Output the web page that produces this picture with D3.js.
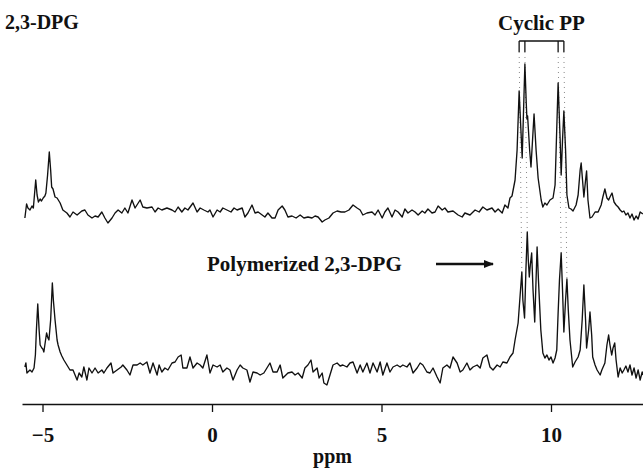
<!DOCTYPE html>
<html>
<head>
<meta charset="utf-8">
<script src="https://cdn.jsdelivr.net/npm/d3@7"></script>
<style>
  body { margin: 0; background: #fff; }
  svg text { font-family: "Liberation Serif", "Times New Roman", serif; font-weight: bold; fill: #111; }
</style>
</head>
<body>
<div id="chart"></div>
<script>
// upper trace (2,3-DPG): chemical shift (ppm) and intensity
const topPpm = [-5.52,-5.47,-5.43,-5.37,-5.31,-5.27,-5.20,-5.16,-5.12,-5.07,-5.03,-4.98,-4.93,-4.90,-4.85,-4.80,-4.76,-4.73,-4.69,-4.63,-4.57,-4.48,-4.40,-4.28,-4.19,-4.10,-3.98,-3.84,-3.75,-3.66,-3.54,-3.45,-3.36,-3.25,-3.16,-3.07,-2.95,-2.86,-2.77,-2.66,-2.57,-2.48,-2.36,-2.27,-2.12,-2.04,-1.92,-1.77,-1.68,-1.59,-1.48,-1.33,-1.18,-1.09,-1.00,-0.89,-0.80,-0.71,-0.56,-0.44,-0.35,-0.24,-0.12,-0.06,0.03,0.15,0.24,0.32,0.44,0.56,0.65,0.74,0.89,0.97,1.06,1.18,1.27,1.36,1.48,1.56,1.65,1.77,1.86,1.95,2.07,2.15,2.24,2.36,2.48,2.60,2.71,2.83,2.95,3.04,3.13,3.25,3.33,3.45,3.57,3.69,3.81,3.92,4.04,4.16,4.28,4.37,4.45,4.57,4.72,4.81,4.90,5.02,5.10,5.19,5.31,5.40,5.49,5.61,5.69,5.78,5.90,5.99,6.08,6.20,6.28,6.37,6.49,6.58,6.67,6.79,6.87,6.96,7.11,7.26,7.38,7.46,7.61,7.76,7.88,7.99,8.11,8.26,8.35,8.44,8.56,8.64,8.73,8.79,8.85,8.94,9.00,9.06,9.15,9.23,9.27,9.29,9.31,9.37,9.41,9.50,9.56,9.62,9.71,9.76,9.82,9.88,9.97,10.06,10.12,10.16,10.21,10.27,10.30,10.34,10.38,10.43,10.47,10.53,10.59,10.65,10.74,10.80,10.86,10.89,10.93,10.97,11.02,11.05,11.09,11.15,11.21,11.30,11.39,11.48,11.53,11.59,11.65,11.70,11.74,11.80,11.86,11.92,11.98,12.04,12.10,12.15,12.21,12.27,12.33,12.39,12.45,12.51,12.57,12.63,12.71];
const topInt = [-5,9,5,3,7,5,33,18,11,14,12,15,17,20,38,61,43,26,24,16,15,10,3,0,-4,1,-2,2,3,-2,-5,-3,-4,1,-5,-10,-5,0,3,0,5,0,13,5,13,6,5,6,1,5,3,5,3,1,6,1,5,3,10,1,5,3,1,3,-4,3,1,5,3,1,5,3,5,-4,0,8,0,1,-2,-4,0,-5,-5,3,7,3,-4,-3,-5,-2,-5,-4,-5,-3,-4,-9,-7,-5,0,2,1,1,3,8,5,3,-2,0,1,-2,3,-5,1,5,-4,3,1,-4,4,0,3,1,-2,2,0,4,0,1,7,3,5,1,2,-2,-4,0,-2,3,1,6,3,5,1,4,0,8,5,15,17,33,63,122,55,149,110,94,97,63,46,99,63,35,13,6,10,8,13,15,28,73,130,73,38,73,102,63,18,5,4,2,8,18,43,50,33,16,33,42,13,-5,-4,1,1,8,16,24,15,13,16,20,11,8,6,3,1,2,-2,0,-5,-1,-7,-3,-6,1,-1];

// lower trace (polymerized 2,3-DPG)
const botPpm = [-5.52,-5.49,-5.46,-5.37,-5.31,-5.25,-5.21,-5.18,-5.14,-5.10,-5.07,-5.02,-4.99,-4.96,-4.91,-4.88,-4.84,-4.81,-4.76,-4.71,-4.68,-4.63,-4.57,-4.54,-4.48,-4.43,-4.37,-4.28,-4.19,-4.10,-3.98,-3.92,-3.84,-3.78,-3.69,-3.63,-3.54,-3.45,-3.36,-3.25,-3.19,-3.10,-2.98,-2.92,-2.80,-2.68,-2.63,-2.51,-2.42,-2.33,-2.21,-2.12,-2.04,-1.92,-1.83,-1.74,-1.62,-1.56,-1.48,-1.39,-1.30,-1.18,-1.09,-1.00,-0.91,-0.86,-0.74,-0.65,-0.56,-0.44,-0.35,-0.27,-0.15,-0.06,0.03,0.15,0.24,0.32,0.44,0.53,0.62,0.74,0.83,0.91,1.03,1.12,1.21,1.33,1.42,1.53,1.62,1.71,1.80,1.92,2.01,2.09,2.24,2.36,2.45,2.54,2.66,2.74,2.83,2.92,2.98,3.10,3.16,3.25,3.30,3.39,3.48,3.57,3.69,3.78,3.86,3.98,4.07,4.16,4.28,4.37,4.45,4.57,4.66,4.75,4.87,4.96,5.04,5.16,5.25,5.34,5.46,5.55,5.63,5.75,5.84,5.93,6.05,6.14,6.22,6.34,6.43,6.52,6.64,6.73,6.81,6.93,7.02,7.11,7.23,7.32,7.40,7.52,7.61,7.70,7.82,7.91,7.99,8.11,8.20,8.29,8.41,8.50,8.58,8.70,8.79,8.88,8.94,9.03,9.09,9.14,9.17,9.22,9.26,9.30,9.33,9.36,9.39,9.43,9.47,9.52,9.55,9.59,9.63,9.70,9.76,9.82,9.88,9.94,10.00,10.06,10.12,10.17,10.21,10.25,10.30,10.34,10.38,10.43,10.47,10.51,10.56,10.64,10.71,10.80,10.86,10.92,10.97,11.02,11.05,11.11,11.15,11.20,11.23,11.30,11.36,11.45,11.50,11.59,11.65,11.70,11.74,11.79,11.83,11.88,11.92,11.98,12.04,12.10,12.15,12.21,12.27,12.33,12.39,12.45,12.51,12.57,12.63,12.69,12.71];
const botInt = [3,7,-3,0,-2,2,15,40,66,40,25,22,21,18,30,37,32,30,50,87,70,50,30,25,18,14,10,5,0,0,-10,-3,-7,3,-10,2,-3,2,-3,0,-3,2,7,-3,0,3,5,0,-5,5,5,7,5,8,-3,7,-5,5,-2,2,0,7,8,13,15,2,2,13,2,7,5,2,15,-3,5,3,5,-2,2,0,-10,0,5,2,0,-12,-2,-3,-5,-3,2,7,-2,-2,5,-8,-3,-2,-5,-3,-8,2,5,10,-2,2,-8,-3,-13,-15,-5,5,7,4,5,3,7,8,-3,5,-2,7,-3,7,-2,8,-5,7,-2,3,5,3,5,3,7,-3,2,7,5,-2,-3,2,-7,-13,2,5,2,13,7,-2,0,7,0,3,5,2,12,15,3,0,5,3,8,7,13,17,30,47,75,98,70,52,100,138,110,93,105,117,80,48,80,123,90,40,17,12,15,10,13,7,12,20,57,90,117,80,38,70,91,60,30,3,8,13,20,50,85,50,22,40,58,35,13,5,0,-5,0,7,25,35,25,15,22,27,10,-7,2,-3,0,4,-2,5,-5,2,-8,0,-10,-2,-5];

const tickValues = [-5, 0, 5, 10];
// cyclic PP peaks in the upper trace and the matching ones below
const cyclicTop = [9.06, 9.23, 10.21, 10.38];
const cyclicBottom = [9.14, 9.30, 10.30, 10.47];

const width = 643, height = 469;

const svg = d3.select("#chart")
  .append("svg")
  .attr("width", width)
  .attr("height", height);

const x = d3.scaleLinear().domain([-5.605, 12.714]).range([22, 643]);
const yTop = d3.scaleLinear().domain([0, 150]).range([213, 63]);
const yBot = d3.scaleLinear().domain([0, 150]).range([370, 220]);

const topData = topPpm.map((p, i) => ({ ppm: p, v: topInt[i] }));
const botData = botPpm.map((p, i) => ({ ppm: p, v: botInt[i] }));

// dotted guides from the bracket down to the polymer peaks
cyclicTop.forEach((p, i) => {
  const q = cyclicBottom[i];
  const b = botData.find(d => d.ppm === q);
  svg.append("line")
    .attr("x1", x(p)).attr("y1", 52)
    .attr("x2", x(q)).attr("y2", yBot(b.v))
    .attr("stroke", "#888")
    .attr("stroke-width", 1)
    .attr("stroke-dasharray", "1,4");
});

const lineTop = d3.line().x(d => x(d.ppm)).y(d => yTop(d.v));
const lineBot = d3.line().x(d => x(d.ppm)).y(d => yBot(d.v));

svg.append("path")
  .datum(topData)
  .attr("d", lineTop)
  .attr("fill", "none")
  .attr("stroke", "#111")
  .attr("stroke-width", 1.35)
  .attr("stroke-linejoin", "round");

svg.append("path")
  .datum(botData)
  .attr("d", lineBot)
  .attr("fill", "none")
  .attr("stroke", "#111")
  .attr("stroke-width", 1.35)
  .attr("stroke-linejoin", "round");

// bracket over the cyclic PP peaks
const br = svg.append("g").attr("stroke", "#111").attr("stroke-width", 1.3).attr("fill", "none");
br.append("line")
  .attr("x1", x(cyclicTop[0])).attr("x2", x(cyclicTop[3]))
  .attr("y1", 41).attr("y2", 41);
cyclicTop.forEach(p => {
  br.append("line")
    .attr("x1", x(p)).attr("x2", x(p))
    .attr("y1", 41).attr("y2", 52);
});

svg.append("text")
  .attr("x", (x(cyclicTop[0]) + x(cyclicTop[3])) / 2)
  .attr("y", 30)
  .attr("text-anchor", "middle")
  .attr("font-size", 21)
  .text("Cyclic PP");

svg.append("text")
  .attr("x", 5)
  .attr("y", 29)
  .attr("font-size", 20)
  .text("2,3-DPG");

svg.append("text")
  .attr("x", 207)
  .attr("y", 271)
  .attr("font-size", 21)
  .text("Polymerized 2,3-DPG");

// arrow
svg.append("defs").append("marker")
  .attr("id", "head")
  .attr("viewBox", "0 0 10 10")
  .attr("refX", 9).attr("refY", 5)
  .attr("markerWidth", 4).attr("markerHeight", 4)
  .attr("orient", "auto")
  .append("path")
  .attr("d", "M0,1 L10,5 L0,9 Z")
  .attr("fill", "#111");

svg.append("line")
  .attr("x1", 436).attr("y1", 264)
  .attr("x2", 493).attr("y2", 264)
  .attr("stroke", "#111")
  .attr("stroke-width", 2.5)
  .attr("marker-end", "url(#head)");

// axis
const axis = svg.append("g")
  .attr("transform", "translate(0,404)")
  .call(d3.axisBottom(x)
    .tickValues(tickValues)
    .tickSize(8)
    .tickSizeOuter(0)
    .tickPadding(15)
    .tickFormat(d3.format("")));

axis.select(".domain").attr("stroke", "#111").attr("stroke-width", 1.6);
axis.selectAll(".tick line").attr("stroke", "#111").attr("stroke-width", 1.3);
axis.selectAll(".tick text")
  .attr("font-size", 21)
  .attr("font-family", null);

svg.append("text")
  .attr("x", (22 + 643) / 2)
  .attr("y", 463)
  .attr("text-anchor", "middle")
  .attr("font-size", 20)
  .text("ppm");
</script>
</body>
</html>
